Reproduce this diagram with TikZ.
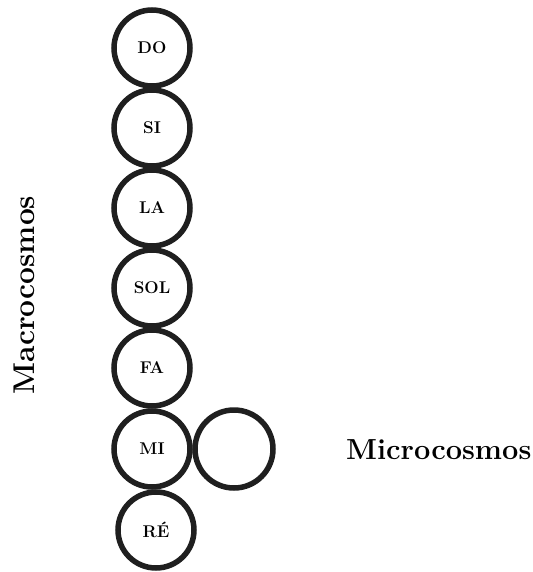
\documentclass[tikz,border=0pt]{standalone}
\usepackage{fontspec}
\usetikzlibrary{positioning}

\begin{document}
\begin{tikzpicture}[x=1pt,y=-1pt,
  note/.style={circle,draw=black!88,line width=5.5pt,minimum size=76pt,inner sep=0pt,
    font=\bfseries\fontsize{17}{17}\selectfont},
  cosmos/.style={font=\bfseries\fontsize{29}{29}\selectfont,inner sep=0pt}]
\useasboundingbox (0,0) rectangle (532,572);

\node[note] (do)  at (152,48)  {DO};
\node[note] (si)  at (152,128) {SI};
\node[note] (la)  at (152,208) {LA};
\node[note] (sol) at (152,288) {SOL};
\node[note] (fa)  at (152,368) {FA};
\node[note] (mi)  at (152,449) {MI};
\node[note] (re)  at (156,530) {RÉ};

% the small world beside MI
\node[note,minimum size=78pt] (micro) at (234,449) {};

\node[cosmos,anchor=base west] (microtxt) at (346,459) {Microcosmos};
\node[cosmos,rotate=90,font=\bfseries\fontsize{30}{30}\selectfont] (macrotxt) at (24,295) {Macrocosmos};

\end{tikzpicture}
\end{document}
